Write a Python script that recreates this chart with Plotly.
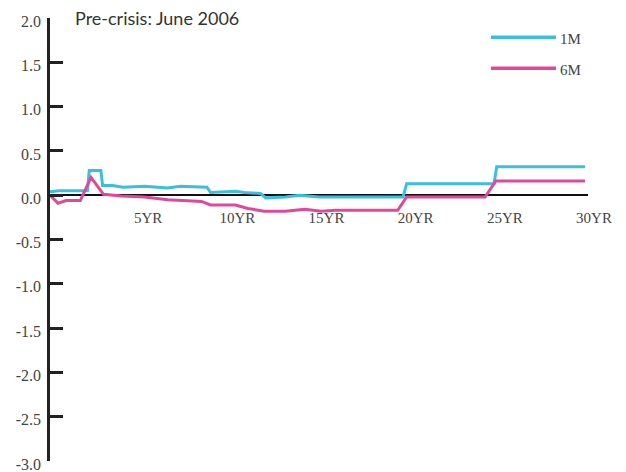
import plotly.graph_objects as go

# ---- data ----
series_names = ["1M", "6M"]

x_1m = [0.0, 0.5, 2.1, 2.2, 2.85, 2.95, 3.5, 4.1, 5.3, 6.6, 7.3, 8.8, 9.0, 10.4, 10.9,
        11.8, 12.1, 13.2, 14.0, 15.1, 19.8, 20.0, 24.9, 25.05, 30.0]
y_1m = [0.04, 0.05, 0.05, 0.28, 0.28, 0.11, 0.11, 0.09, 0.10, 0.08, 0.10, 0.09, 0.03, 0.045, 0.03,
        0.02, -0.03, -0.02, 0.0, -0.02, -0.02, 0.13, 0.13, 0.32, 0.32]

x_6m = [0.0, 0.45, 0.9, 1.7, 2.3, 3.0, 4.0, 5.3, 6.6, 8.5, 9.0, 10.4, 11.1, 12.0, 13.2,
        14.3, 15.2, 16.0, 19.5, 20.0, 24.4, 25.0, 30.0]
y_6m = [0.0, -0.09, -0.06, -0.06, 0.20, 0.01, -0.01, -0.02, -0.05, -0.07, -0.11, -0.11, -0.15,
        -0.18, -0.18, -0.16, -0.18, -0.17, -0.17, -0.02, -0.02, 0.16, 0.16]

x_tick_vals = [5, 10, 15, 20, 25, 30]
x_tick_text = ["5YR", "10YR", "15YR", "20YR", "25YR", "30YR"]
y_tick_vals = [2.0, 1.5, 1.0, 0.5, 0.0, -0.5, -1.0, -1.5, -2.0, -2.5, -3.0]
y_tick_text = ["2.0", "1.5", "1.0", "0.5", "0.0", "-0.5", "-1.0", "-1.5", "-2.0", "-2.5", "-3.0"]

title_text = "Pre-crisis: June 2006"
colors = ["#3bbfdc", "#e0489a"]

# ---- figure ----
fig = go.Figure()
fig.add_trace(go.Scatter(x=x_1m, y=y_1m, mode="lines", name=series_names[0],
                         line=dict(color=colors[0], width=3), showlegend=False))
fig.add_trace(go.Scatter(x=x_6m, y=y_6m, mode="lines", name=series_names[1],
                         line=dict(color=colors[1], width=3), showlegend=False))

serif = "Liberation Serif, Times New Roman, serif"

# the page body has an 8px default margin, so the layout is offset by 8px
fig.update_layout(
    template="none",
    width=626, height=472,
    margin=dict(l=42, r=46, t=10, b=19),
    paper_bgcolor="white", plot_bgcolor="white",
    xaxis=dict(range=[0, 30.17], anchor="free", position=0.6, automargin=False,
               tickvals=x_tick_vals, ticktext=x_tick_text,
               showgrid=False, zeroline=False, showline=False, ticks="",
               ticklabelshift=9, ticklabelstandoff=12,
               tickfont=dict(family=serif, size=15, color="#444")),
    yaxis=dict(range=[-3, 2], domain=[0, 1], automargin=False,
               tickvals=y_tick_vals, ticktext=y_tick_text,
               showgrid=False, zeroline=True, zerolinecolor="#111", zerolinewidth=2,
               showline=True, linecolor="#222", linewidth=2.5,
               ticks="inside", ticklen=13, tickwidth=2.5, tickcolor="#222",
               ticklabelshift=3, ticklabelstandoff=3, ticklabeloverflow="allow",
               tickfont=dict(family=serif, size=16, color="#444")),
    showlegend=False,
)

# title
fig.add_annotation(text=title_text, xref="paper", yref="paper", x=0.043, y=1.0,
                   xanchor="left", yanchor="middle", showarrow=False,
                   font=dict(family="Lato, Noto Sans, sans-serif", size=18, color="#333"))

# manual legend (long line swatches)
leg_y = [0.9564, 0.8865]
for name, col, ly in zip(series_names, colors, leg_y):
    fig.add_shape(type="line", xref="paper", yref="paper", x0=0.8197, x1=0.9405, y0=ly, y1=ly,
                  line=dict(color=col, width=3.5))
    fig.add_annotation(text=name, xref="paper", yref="paper", x=0.944, y=ly - 0.003,
                       xanchor="left", yanchor="middle", showarrow=False,
                       font=dict(family=serif, size=15, color="#444"))

fig.write_html("out.html")
